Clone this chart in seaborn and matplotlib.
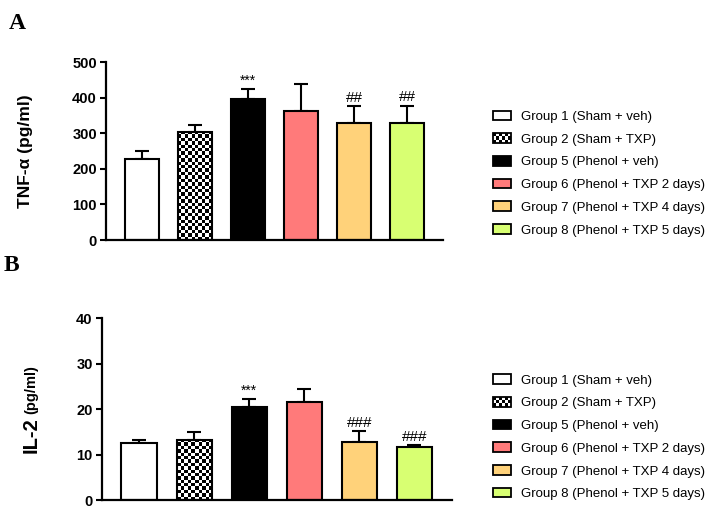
import numpy as np
import pandas as pd
import seaborn as sns
import matplotlib.pyplot as plt
from matplotlib.patches import Rectangle
from matplotlib.legend_handler import HandlerBase

groups = ["Group 1 (Sham + veh)", "Group 2 (Sham + TXP)", "Group 5 (Phenol + veh)",
          "Group 6 (Phenol + TXP 2 days)", "Group 7 (Phenol + TXP 4 days)",
          "Group 8 (Phenol + TXP 5 days)"]
bar_colors = ["white", "white", "black", "#FF7A7A", "#FFD27A", "#D8FF72"]

tnf_mean = [228, 305, 397, 363, 328, 328]
tnf_sem = [23, 19, 27, 75, 48, 50]
tnf_marks = ["", "", "***", "", "##", "##"]

il2_mean = [12.6, 13.3, 20.4, 21.5, 12.8, 11.7]
il2_sem = [0.6, 1.6, 1.8, 2.9, 2.4, 0.3]
il2_marks = ["", "", "***", "", "###", "###"]

sns.set_style("ticks")
plt.rcParams['font.family'] = ['Liberation Sans', 'DejaVu Sans']
plt.rcParams['text.color'] = 'black'
plt.rcParams['axes.labelcolor'] = 'black'
plt.rcParams['axes.edgecolor'] = 'black'
plt.rcParams['xtick.color'] = 'black'
plt.rcParams['ytick.color'] = 'black'


class CheckerHandler(HandlerBase):
    # legend box for the checkered group
    def create_artists(self, legend, orig_handle, xdescent, ydescent, width, height, fontsize, trans):
        arts = []
        nx, ny = 6, 3
        cw, ch = width / nx, height / ny
        for i in range(nx):
            for j in range(ny):
                if (i + j) % 2 == 0:
                    arts.append(Rectangle((-xdescent + i * cw, -ydescent + j * ch), cw, ch,
                                          fc='black', ec='none', transform=trans))
        arts.append(Rectangle((-xdescent, -ydescent), width, height, fc='none',
                              ec='black', lw=1.3, transform=trans))
        return arts


def checker_fill(ax, patch, cell=3.4):
    bb = patch.get_bbox()
    p0 = ax.transData.transform((bb.x0, bb.y0))
    p1 = ax.transData.transform((bb.x1, bb.y1))
    nx = max(1, int(round((p1[0] - p0[0]) / cell)))
    ny = max(1, int(round((p1[1] - p0[1]) / cell)))
    board = np.indices((ny, nx)).sum(axis=0) % 2
    xl, yl = ax.get_xlim(), ax.get_ylim()
    im = ax.imshow(board, cmap='gray', extent=[bb.x0, bb.x1, bb.y0, bb.y1], origin='lower',
                   interpolation='nearest', aspect='auto', zorder=1.5)
    im.set_clip_path(patch)
    ax.set_xlim(xl)
    ax.set_ylim(yl)
    patch.set_facecolor('none')
    patch.set_zorder(2)


def panel(ax, means, sems, marks, ymax, ystep):
    df = pd.DataFrame({"group": groups, "value": means})
    sns.barplot(data=df, x="group", y="value", hue="group", palette=bar_colors, saturation=1,
                edgecolor='black', linewidth=1.5, width=0.64, legend=False, ax=ax)
    x = np.arange(len(groups))
    ax.errorbar(x, means, yerr=[np.zeros(len(means)), sems], fmt='none', ecolor='black',
                elinewidth=1.5, capsize=5, capthick=1.5, zorder=0.5)
    for xi, m, s, t in zip(x, means, sems, marks):
        if t:
            fs = 10 if t.startswith('*') else 11
            ax.annotate(t, (xi, m + s), xytext=(0, 1), textcoords='offset points',
                        ha='center', va='bottom', fontsize=fs)
    ax.set_xlim(-0.68, len(groups) - 1 + 0.68)
    ax.set_ylim(0, ymax)
    ax.set_yticks(np.arange(0, ymax + 1, ystep))
    ax.set_xticks([])
    ax.set_xlabel('')
    sns.despine(ax=ax)
    ax.spines['left'].set_linewidth(1.6)
    ax.spines['bottom'].set_linewidth(1.6)
    ax.tick_params(axis='y', width=1.5, length=4.5, labelsize=10.5, pad=2)
    for lab in ax.get_yticklabels():
        lab.set_fontweight('bold')


fig = plt.figure(figsize=(7.09, 5.07), dpi=100)
axA = fig.add_axes([0.1495, 0.5266, 0.4753, 0.3505])
axB = fig.add_axes([0.1434, 0.0138, 0.4940, 0.3584])

panel(axA, tnf_mean, tnf_sem, tnf_marks, 500, 100)
panel(axB, il2_mean, il2_sem, il2_marks, 40, 10)

for ax in (axA, axB):
    checker_fill(ax, ax.patches[1])

axA.set_ylabel("TNF-α (pg/ml)", fontsize=12.5, fontweight='bold')
axA.yaxis.set_label_coords(-0.217, 0.5)

axB.set_ylabel('')
t1 = axB.text(-0.2, 0.26, "IL-2", rotation=90, transform=axB.transAxes,
              ha='center', va='bottom', fontsize=14.5, fontweight='bold')
axB.annotate("(pg/ml)", xy=(0.5, 1), xycoords=t1, xytext=(0, 2), textcoords='offset points',
             ha='center', va='bottom', rotation=90, fontsize=10.5, fontweight='bold')

for ax, top in ((axA, 0.782), (axB, 0.262)):
    handles = list(ax.patches[:6])
    leg = fig.legend(handles, groups, loc='upper left', bbox_to_anchor=(0.695, top),
                     frameon=False, fontsize=9.5, borderpad=0, borderaxespad=0,
                     labelspacing=0.78, handlelength=1.4, handleheight=0.75,
                     handletextpad=0.75, handler_map={handles[1]: CheckerHandler()})
    for h in leg.legend_handles:
        if h is not None:
            h.set_linewidth(1.3)

fig.text(0.012, 0.975, "A", fontsize=17, fontweight='bold', family='Liberation Serif', va='top')
fig.text(0.005, 0.498, "B", fontsize=17, fontweight='bold', family='Liberation Serif', va='top')

plt.savefig('out.png', dpi=100)
